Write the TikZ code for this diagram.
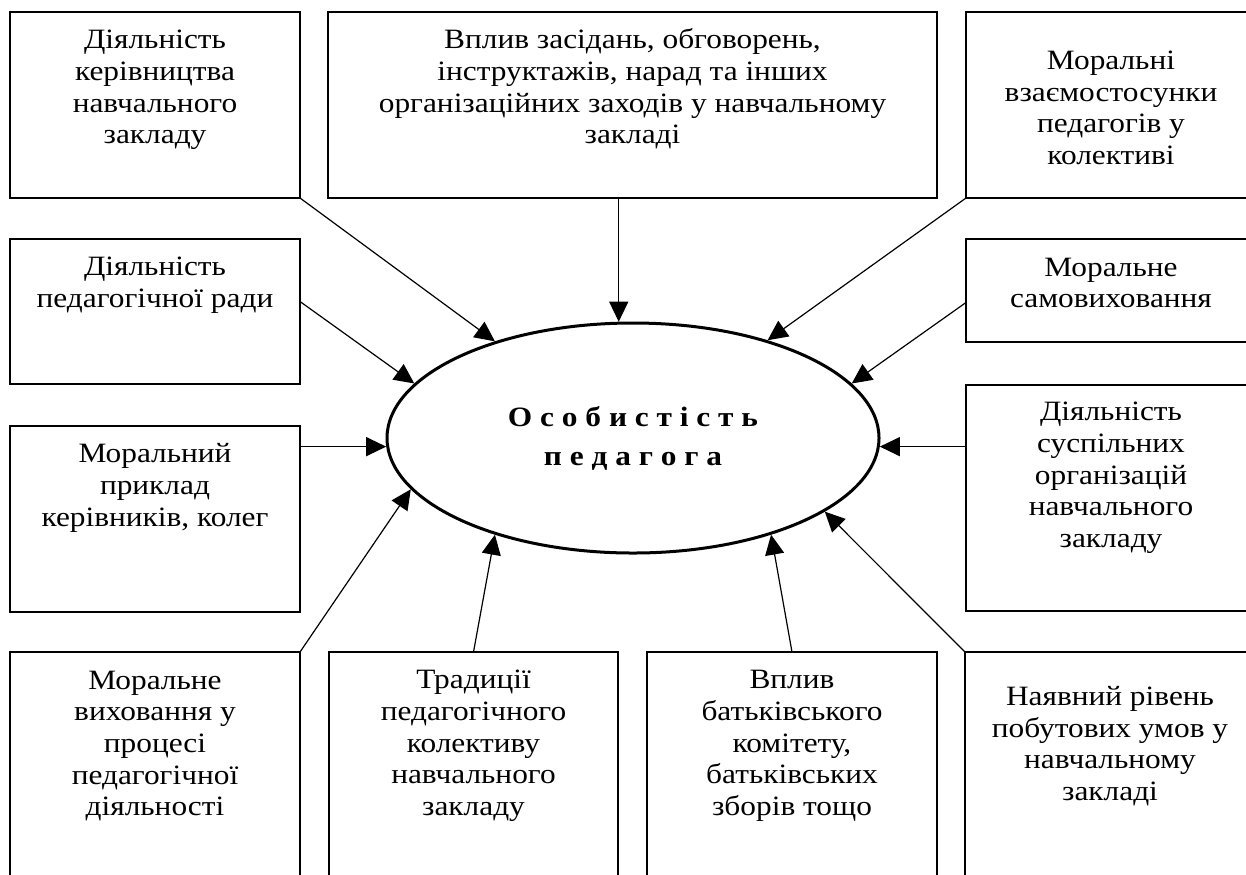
\documentclass[tikz,border=0pt]{standalone}
\usepackage{fontspec}
\setmainfont{Liberation Serif}[FakeStretch=1.12]
\usetikzlibrary{positioning,shapes.geometric,arrows.meta}

\tikzset{
  box/.style={draw, rectangle, line width=1pt, minimum width=145pt, inner sep=0pt, outer sep=0pt, anchor=north west},
  txt/.style={align=center, font=\fontsize{14}{15.85}\selectfont},
}

\begin{document}
\begin{tikzpicture}[x=0.5pt, y=-0.5pt, line width=0.6pt, >={Triangle[length=10pt,width=9.5pt]}]
				\clip (0,0) rectangle (1246,874);
				% boxes
				\node[box, minimum height=93pt] (b1) at (10,12) {};
				\node[box, minimum width=304.5pt, minimum height=93pt, right=14pt of b1.north east, anchor=north west] (b2) {};
				\node[box, minimum height=93pt, right=14.5pt of b2.north east, anchor=north west] (b3) {};
				\node[box, minimum height=72.5pt, below=20.5pt of b1.south west, anchor=north west] (b4) {};
				\node[box, minimum height=51.5pt, below=20.5pt of b3.south west, anchor=north west] (b5) {};
				\node[box, minimum height=93pt, below=21pt of b4.south west, anchor=north west] (b6) {};
				\node[box, minimum height=113pt, below=21.5pt of b5.south west, anchor=north west] (b7) {};
				\node[box, minimum height=130pt, below=20pt of b6.south west, anchor=north west] (b8) {};
				\node[box, minimum width=144.5pt, minimum height=130pt, right=14.5pt of b8.north east, anchor=north west] (b9) {};
				\node[box, minimum height=130pt, right=14.5pt of b9.north east, anchor=north west] (b10) {};
				\node[box, minimum height=130pt, right=14pt of b10.north east, anchor=north west] (b11) {};
				% texts
				\node[txt] (t1) at ([yshift=-39pt]b1.north) {Діяльність\\керівництва\\навчального\\закладу};
				\node[txt] (t2) at ([yshift=-38.5pt]b2.north) {Вплив засідань, обговорень,\\інструктажів, нарад та інших\\організаційних заходів у навчальному\\закладі};
				\node[txt] (t3) at ([yshift=-48pt]b3.north) {Моральні\\взаємостосунки\\педагогів у\\колективі};
				\node[txt] (t4) at ([yshift=-23pt]b4.north) {Діяльність\\педагогічної ради};
				\node[txt] (t5) at ([yshift=-22pt]b5.north) {Моральне\\самовиховання};
				\node[txt] (t6) at ([yshift=-31pt]b6.north) {Моральний\\приклад\\керівників, колег};
				\node[txt] (t7) at ([yshift=-46.5pt]b7.north) {Діяльність\\суспільних\\організацій\\навчального\\закладу};
				\node[txt] (t8) at ([yshift=-47pt]b8.north) {Моральне\\виховання у\\процесі\\педагогічної\\діяльності};
				\node[txt] (t9) at ([yshift=-47pt]b9.north) {Традиції\\педагогічного\\колективу\\навчального\\закладу};
				\node[txt] (t10) at ([yshift=-47pt]b10.north) {Вплив\\батьківського\\комітету,\\батьківських\\зборів тощо};
				\node[txt] (t11) at ([yshift=-47pt]b11.north) {Наявний рівень\\побутових умов у\\навчальному\\закладі};
				% centre
				\node[draw, ellipse, line width=1.5pt, minimum width=246pt, minimum height=115pt, align=center,
				      font=\bfseries\fontsize{14}{19.5}\selectfont] (pers) at (633,438)
				      {О с о б и с т і с т ь\\п е д а г о г а};
				\draw[<-] (pers.145) -- (b1.south east);
				\draw[<-] (pers.97) -- (pers.97 |- b2.south);
				\draw[<-] (pers.36) -- (b3.south west);
				\draw[<-] (pers.166) -- ([yshift=5pt]b4.east);
				\draw[<-] (pers.14) -- ([yshift=-6pt]b5.west);
				\draw[<-] (pers.182) -- (pers.182 -| b6.east);
				\draw[<-] (pers.358) -- (pers.358 -| b7.west);
				\draw[<-] (pers.193) -- (b8.north east);
				\draw[<-] (pers.215) -- (b9.north);
				\draw[<-] (pers.325) -- (b10.north);
				\draw[<-] (pers.339) -- (b11.north west);
			\end{tikzpicture}
\end{document}
